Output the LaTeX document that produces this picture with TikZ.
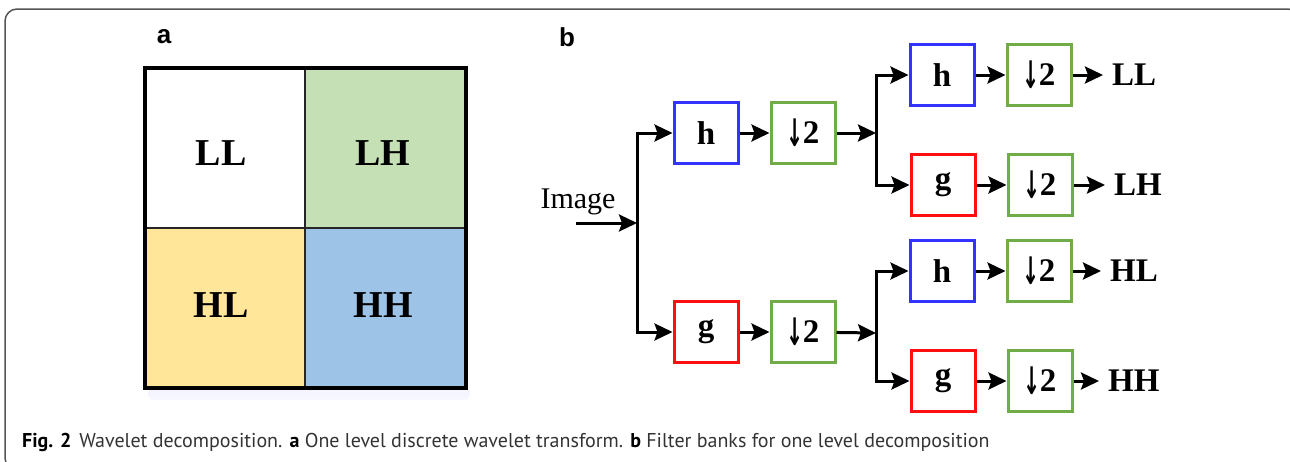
\documentclass[tikz,border=0pt]{standalone}
\usepackage{fontspec}
\setmainfont{Liberation Serif}
\setsansfont{Liberation Sans}
\newfontfamily\capfont{PT Sans}
\newfontfamily\arrowfont{DejaVu Sans}
\usetikzlibrary{arrows.meta}
\definecolor{frameg}{HTML}{555555}
\definecolor{cellgreen}{HTML}{C5E0B4}
\definecolor{cellyellow}{HTML}{FFE699}
\definecolor{cellblue}{HTML}{9DC3E6}
\definecolor{fblue}{HTML}{3333FF}
\definecolor{fred}{HTML}{FF1010}
\definecolor{fgreen}{HTML}{70AD47}
\definecolor{captxt}{HTML}{333333}
% bold down arrow used in the decimation boxes
\newcommand{\dnarrow}{\raisebox{-3pt}{\scalebox{0.62}[1.15]{\arrowfont\bfseries ↓}}\kern-1pt}
\tikzset{
  fbox/.style={draw, line width=3pt, fill=white, minimum width=64pt, minimum height=61pt,
    inner sep=0pt, font=\fontsize{33}{35}\selectfont\bfseries},
  hbox/.style={fbox, draw=fblue},
  gbox/.style={fbox, draw=fred},
  dbox/.style={fbox, draw=fgreen},
  arr/.style={line width=3pt, -{Stealth[length=18pt,width=17pt,inset=3pt]}},
  outlbl/.style={anchor=west, inner sep=0pt, inner xsep=9pt, font=\fontsize{33}{35}\selectfont\bfseries},
  celllbl/.style={font=\fontsize{38}{40}\selectfont\bfseries},
  panel/.style={font=\sffamily\bfseries\fontsize{26}{28}\selectfont},
}
\begin{document}
\begin{tikzpicture}[x=1pt,y=-1pt]
\useasboundingbox (0,0) rectangle (1290,461);
% outer frame
\draw[frameg, line width=1.5pt, rounded corners=12pt] (5,9) rectangle (1300,470);

% ---- panel a: one-level DWT sub-bands
\node[panel] (pa) at (164,37) {a};
\fill[blue!40, opacity=0.10] (148,390) rectangle (470,397);
\fill[blue!40, opacity=0.08] (150,397) rectangle (468,400);
\fill[white] (145,68) rectangle (305,228);
\fill[cellgreen] (305,68) rectangle (466,228);
\fill[cellyellow] (145,228) rectangle (305,388);
\fill[cellblue] (305,228) rectangle (466,388);
\draw[black!85, line width=2pt] (305,68) -- (305,388) (145,228) -- (466,228);
\draw[black, line width=3.5pt] (145,68) rectangle (466,388);
\node[celllbl] (ll) at (221,153) {LL};
\node[celllbl] (lh) at (383,153) {LH};
\node[celllbl] (hl) at (221,305) {HL};
\node[celllbl] (hh) at (383,305) {HH};

% ---- panel b: analysis filter bank
\node[panel] (pb) at (567,37) {b};
\node[font=\fontsize{30}{32}\selectfont, inner sep=0pt] (img) at (578,202) {Image};
\coordinate (in) at (576,223);
\coordinate (j0) at (637,223);

% first level
\node[hbox] (h1) at (706,133) {h};
\node[dbox] (d1) at (803,133) {\dnarrow2};
\node[gbox] (g1) at (706,332) {g};
\node[dbox] (d2) at (803,332) {\dnarrow2};
\coordinate (j1) at (876,133);
\coordinate (j2) at (876,333);

% second level
\node[hbox] (h2) at (942,75) {h};
\node[dbox] (d3) at (1039,75) {\dnarrow2};
\node[gbox] (g2) at (943,185) {g};
\node[dbox] (d4) at (1040,185) {\dnarrow2};
\node[hbox] (h3) at (942,271) {h};
\node[dbox] (d5) at (1039,271) {\dnarrow2};
\node[gbox] (g3) at (943,381) {g};
\node[dbox] (d6) at (1040,381) {\dnarrow2};

\node[outlbl] (oll) at (1103,75) {LL};
\node[outlbl] (olh) at (1105,185) {LH};
\node[outlbl] (ohl) at (1101,271) {HL};
\node[outlbl] (ohh) at (1099,381) {HH};

% connectors
\draw[arr] (in) -- (j0);
\draw[arr] (j0) |- (h1);
\draw[arr] (j0) |- (g1);
\draw[arr] (h1) -- (d1);
\draw[arr] (g1) -- (d2);
\draw[arr] (d1) -- (j1);
\draw[arr] (d2) -- (j2);
\draw[arr] (j1) |- (h2);
\draw[arr] (j1) |- (g2);
\draw[arr] (j2) |- (h3);
\draw[arr] (j2) |- (g3);
\draw[arr] (h2) -- (d3);
\draw[arr] (g2) -- (d4);
\draw[arr] (h3) -- (d5);
\draw[arr] (g3) -- (d6);
\draw[arr] (d3) -- (oll);
\draw[arr] (d4) -- (olh);
\draw[arr] (d5) -- (ohl);
\draw[arr] (d6) -- (ohh);

% caption
\node[anchor=base west, inner sep=0pt, font=\capfont\fontsize{20}{22}\selectfont, text=captxt] (cap) at (22,447)
  {\textbf{\color{black}Fig. 2}\hspace{8pt}Wavelet decomposition. \textbf{\color{black}a} One level discrete wavelet transform. \textbf{\color{black}b} Filter banks for one level decomposition};
\end{tikzpicture}
\end{document}
